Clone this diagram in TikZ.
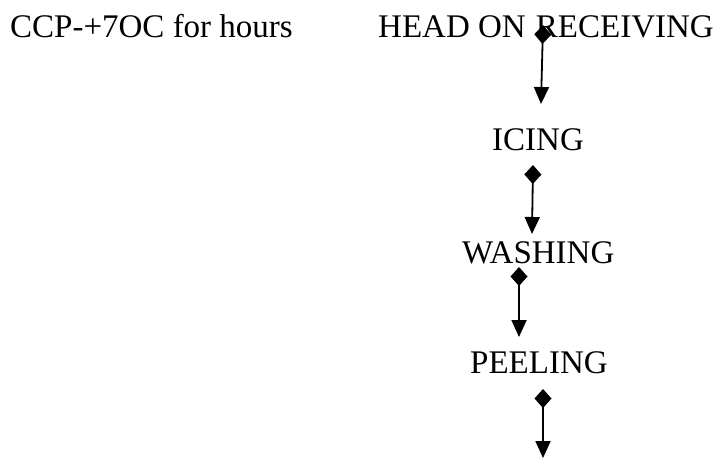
\documentclass[tikz,border=0pt]{standalone}
\usepackage{fontspec}
\setmainfont{Liberation Serif}
\usetikzlibrary{arrows.meta}
\begin{document}
\begin{tikzpicture}[x=1pt,y=-1pt,
  label/.style={inner sep=0pt,anchor=base west,font=\fontsize{33}{38}\selectfont},
  flow/.style={line width=1.8pt,
    {Diamond[length=19pt,width=17pt]}-{Triangle[length=17pt,width=15pt]}}]
\useasboundingbox (0,0) rectangle (727,459);
% text of the steps
\node[label] (ccp)  at (10,37)  {CCP-+7OC for hours};
\node[label] (head) at (378,37) {HEAD ON\hspace{2pt} RECEIVING};
\node[label] (icing) at (492,150) {ICING};
\node[label] (wash) at (462,263) {WASHING};
\node[label] (peel) at (470,373) {PEELING};
% connector ends
\coordinate (a1) at (543,25);  \coordinate (b1) at (541,104);
\coordinate (a2) at (533,165); \coordinate (b2) at (532,234);
\coordinate (a3) at (519,267); \coordinate (b3) at (519,337);
\coordinate (a4) at (543,389); \coordinate (b4) at (543,458);
\draw[flow] (a1) -- (b1);
\draw[flow] (a2) -- (b2);
\draw[flow] (a3) -- (b3);
\draw[flow] (a4) -- (b4);
\end{tikzpicture}
\end{document}
